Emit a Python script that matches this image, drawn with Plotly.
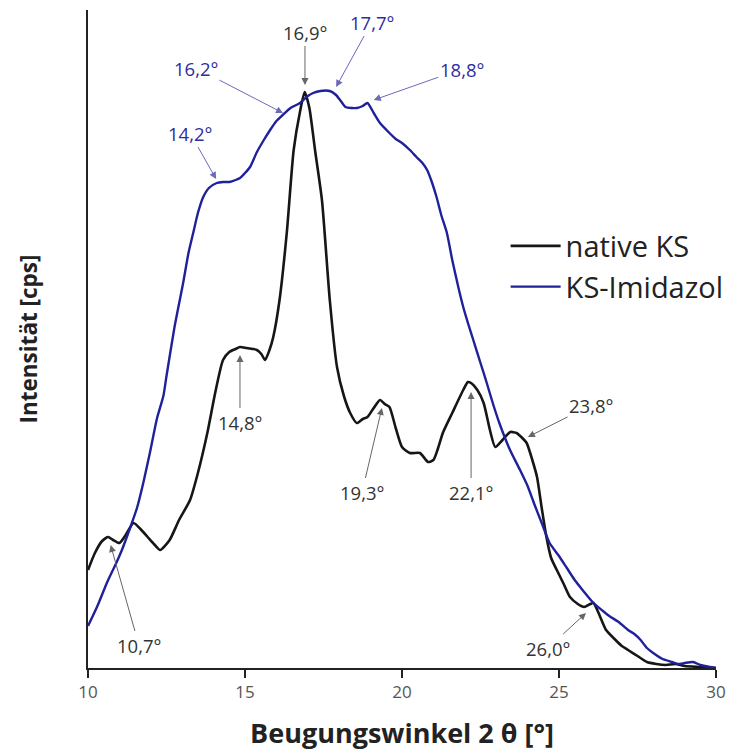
import plotly.graph_objects as go

# native KS
ks_x = [10.0, 10.22, 10.45, 10.64, 10.8, 11.0, 11.2, 11.45, 11.7, 11.9, 12.1, 12.3, 12.6, 12.9,
        13.25, 13.5, 13.8, 14.05, 14.3, 14.5, 14.7, 14.84, 15.05, 15.25, 15.38, 15.52, 15.64,
        15.78, 15.9, 16.1, 16.33, 16.55, 16.75, 16.9, 17.05, 17.23, 17.45, 17.7, 17.93, 18.15,
        18.35, 18.56, 18.75, 18.9, 19.1, 19.3, 19.45, 19.6, 19.8, 20.0, 20.25, 20.57, 20.83,
        21.0, 21.15, 21.3, 21.6, 21.95, 22.1, 22.2, 22.4, 22.6, 22.8, 22.97, 23.2, 23.45, 23.65,
        23.8, 23.97, 24.15, 24.3, 24.45, 24.6, 24.75, 24.93, 25.15, 25.35, 25.6, 25.8, 26.0,
        26.1, 26.3, 26.5, 26.8, 27.0, 27.2, 27.5, 27.8, 28.1, 28.4, 28.7, 29.0, 29.5, 30.0]
ks_y = [98, 115, 127, 131, 128, 125, 133, 145, 138, 131, 124, 118, 128, 148,
        168, 195, 235, 275, 308, 316, 319, 321, 320, 319, 318, 314, 308,
        318, 331, 368, 435, 518, 556, 576, 560, 518, 468, 368, 301, 272,
        255, 245, 249, 251, 260, 268, 264, 261, 240, 221, 215, 215, 206,
        208, 220, 235, 255, 278, 286, 285, 278, 265, 238, 221, 228, 236, 235,
        231, 225, 208, 191, 160, 131, 110, 98, 84, 71, 64, 61, 64,
        65, 52, 38, 28, 22, 18, 12, 6, 4, 3, 4, 2, 1, 0]

# KS-Imidazol
im_x = [10.0, 10.3, 10.6, 10.9, 11.08, 11.34, 11.56, 11.76, 11.97, 12.2, 12.4, 12.5, 12.75,
        13.03, 13.2, 13.35, 13.5, 13.67, 13.85, 14.1, 14.3, 14.5, 14.7, 14.84, 15.0, 15.16,
        15.38, 15.6, 15.8, 16.0, 16.2, 16.45, 16.75, 17.0, 17.17, 17.4, 17.7, 17.9, 18.05,
        18.2, 18.4, 18.57, 18.75, 18.9, 19.1, 19.3, 19.6, 19.8, 20.0, 20.25, 20.46, 20.65,
        20.8, 20.95, 21.1, 21.25, 21.43, 21.6, 21.8, 21.95, 22.1, 22.27, 22.5, 22.7, 22.9,
        23.1, 23.44, 23.76, 24.0, 24.2, 24.45, 24.7, 25.0, 25.25, 25.5, 25.7, 26.1, 26.4,
        26.6, 26.9, 27.2, 27.4, 27.6, 27.8, 28.0, 28.3, 28.6, 28.8, 29.0, 29.27, 29.5, 29.8, 30.0]
im_y = [42, 62, 85, 105, 118, 140, 160, 185, 215, 250, 272, 292, 340,
        385, 415, 435, 455, 471, 480, 485, 486, 486, 488, 490, 495, 501,
        516, 528, 538, 547, 553, 560, 565, 572, 575, 577, 577, 573, 567,
        561, 560, 560, 562, 565, 555, 545, 535, 529, 525, 518, 511, 505,
        498, 486, 471, 453, 435, 408, 380, 361, 345, 328, 305, 285, 264,
        245, 218, 198, 182, 165, 145, 125, 112, 100, 88, 80, 65, 57,
        52, 46, 38, 34, 28, 20, 15, 9, 6, 4, 5, 6, 3, 1, 0]

# peak labels: text, arrow head (x, y), text centre (x, y), series
peak_text = ["14,2°", "16,2°", "16,9°", "17,7°", "18,8°", "14,8°", "19,3°", "22,1°", "23,8°", "10,7°", "26,0°"]
peak_x = [14.08, 16.21, 16.91, 17.9, 19.1, 14.84, 19.36, 22.2, 24.01, 10.72, 25.86]
peak_y = [489, 555, 583, 581, 568, 313, 260, 276, 231, 123, 55]
label_x = [13.25, 13.44, 16.91, 19.04, 21.9, 14.84, 18.73, 22.2, 26.02, 11.62, 24.65]
label_y = [535, 600, 636, 646, 599, 246, 176, 176, 263, 23, 20]
label_series = ["im", "im", "ks", "im", "im", "ks", "ks", "ks", "ks", "ks", "ks"]

x_ticks = [10, 15, 20, 25, 30]

BLACK = "#161616"
BLUE = "#20209a"
FONT = "Open Sans"

fig = go.Figure()
fig.add_trace(go.Scatter(x=ks_x, y=ks_y, mode="lines", name="native KS",
                         line=dict(color=BLACK, width=2.6, shape="spline", smoothing=0.6)))
fig.add_trace(go.Scatter(x=im_x, y=im_y, mode="lines", name="KS-Imidazol",
                         line=dict(color=BLUE, width=2.4, shape="spline", smoothing=0.6)))

for t, hx, hy, tx, ty, s in zip(peak_text, peak_x, peak_y, label_x, label_y, label_series):
    tcol = "#2e2e9e" if s == "im" else "#333333"
    acol = "#6a6ab8" if s == "im" else "#666666"
    fig.add_annotation(x=hx, y=hy, ax=tx, ay=ty, axref="x", ayref="y", xref="x", yref="y",
                       text=t, showarrow=True, arrowhead=2, arrowsize=1.4, arrowwidth=1,
                       arrowcolor=acol, font=dict(family=FONT, size=18.5, color=tcol))

fig.update_layout(
    width=741, height=751,
    margin=dict(l=80, r=33, t=2, b=91),
    paper_bgcolor="white", plot_bgcolor="white",
    font=dict(family=FONT, color="#222222"),
    showlegend=True,
    legend=dict(x=0.665, y=0.68, xanchor="left", yanchor="top",
                font=dict(family=FONT, size=29, color="#222222"),
                bgcolor="rgba(0,0,0,0)", itemwidth=50, tracegroupgap=0),
    xaxis=dict(range=[10, 30], tickvals=x_ticks, ticktext=[str(v) for v in x_ticks],
               showgrid=False, zeroline=False, showline=True, linecolor="#222222", linewidth=2,
               ticks="outside", ticklen=8, tickwidth=1.5, tickcolor="#222222",
               tickfont=dict(family=FONT, size=17, color="#555555"),
               title=dict(text="Beugungswinkel 2 θ [°]", standoff=22,
                          font=dict(family=FONT, size=27, color="#222222", weight="bold"))),
    yaxis=dict(range=[0, 658], showticklabels=False, showgrid=False, zeroline=False,
               showline=True, linecolor="#222222", linewidth=2, ticks="",
               title=dict(text="Intensität [cps]", standoff=42,
                          font=dict(family=FONT, size=22.5, color="#222222", weight="bold"))),
)

fig.write_html("out.html")
